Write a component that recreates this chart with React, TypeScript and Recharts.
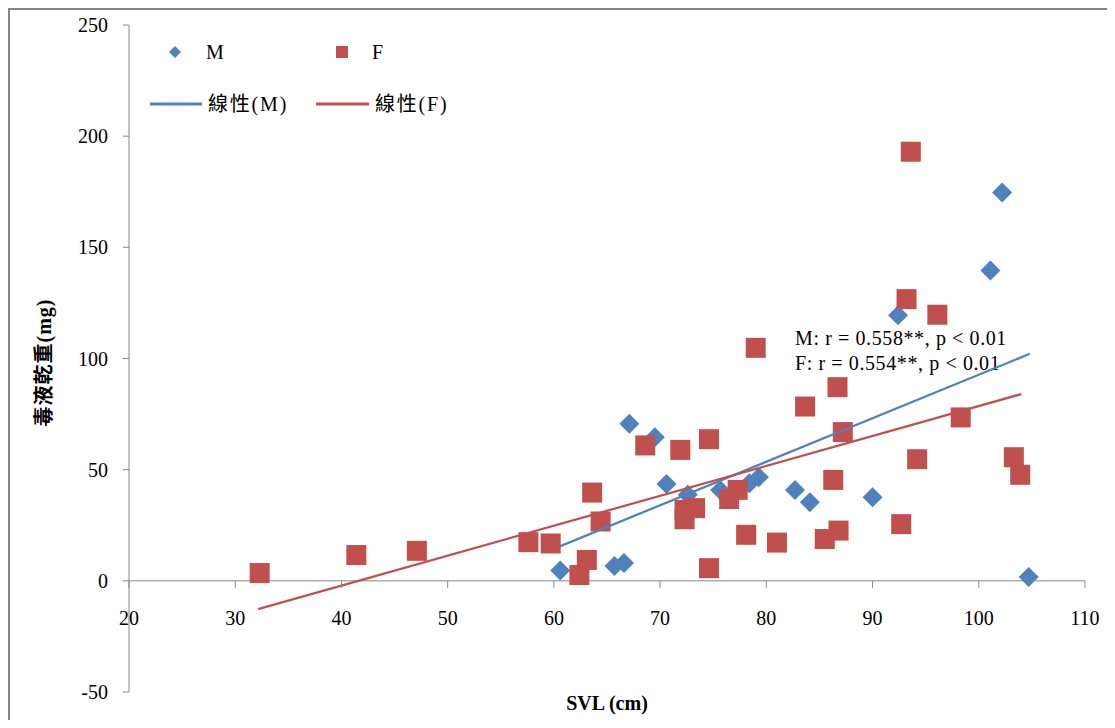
import { Legend, ReferenceLine, Scatter, ScatterChart, XAxis, YAxis } from "recharts";

// male (M) points: SVL (cm) and dry venom weight (mg)
const mSvl = [60.6, 65.7, 66.6, 67.1, 69.5, 70.6, 72.6, 75.65, 78.4, 79.3, 82.7, 84.1, 90.0, 92.4, 101.1, 102.2, 104.7];
const mVenom = [4.6, 6.7, 8.0, 70.6, 64.6, 43.6, 38.7, 40.9, 43.9, 46.6, 40.8, 35.4, 37.6, 119.5, 139.6, 174.7, 1.7];

// female (F) points
const fSvl = [
    32.3, 41.4, 47.1, 57.6, 59.7, 62.4, 63.1, 63.6, 64.4, 68.6, 71.9, 72.3, 72.3, 73.3, 74.6, 74.6, 76.5, 77.3, 78.1, 79.0, 81.0,
    83.65, 85.5, 86.3, 86.7, 86.8, 87.2, 92.7, 93.2, 93.6, 94.2, 96.1, 98.3, 103.3, 103.9,
];
const fVenom = [
    3.5, 11.6, 13.5, 17.4, 16.8, 2.6, 9.4, 39.7, 26.7, 60.9, 58.9, 27.7, 31.9, 32.7, 63.7, 5.7, 36.8, 40.9, 20.7, 104.8, 17.2,
    78.4, 18.8, 45.4, 87.1, 22.6, 66.9, 25.5, 126.7, 193, 54.7, 119.7, 73.5, 55.6, 47.7,
];

// linear trendline end points
const mTrendSvl = [60.5, 104.8];
const mTrendVenom = [15.4, 102.1];
const fTrendSvl = [32.15, 104.0];
const fTrendVenom = [-12.7, 84.0];

const xTicks = [20, 30, 40, 50, 60, 70, 80, 90, 100, 110];
const yTicks = [-50, 0, 50, 100, 150, 200, 250];

const statLines = ["M: r = 0.558**, p < 0.01", "F: r = 0.554**, p < 0.01"];

const BLUE = "#4F81BD";
const RED = "#C0504D";
const AXIS = "#868686";
const FONT = "'Liberation Serif', 'Times New Roman', 'Noto Sans CJK TC', serif";

const W = 1103;
const H = 710;
const M_TOP = 15;
const M_RIGHT = 28;
const Y_AXIS_W = 119;
const X_AXIS_H = 28;
const PLOT_H = H - M_TOP - X_AXIS_H;
// pixel row of y = 0, where the x axis sits
const ZERO_Y = M_TOP + (PLOT_H * yTicks[yTicks.length - 1]) / (yTicks[yTicks.length - 1] - yTicks[0]);

const zip = (xs: number[], ys: number[]) => xs.map((x, i) => ({ x, y: ys[i] }));

const Diamond = (props: any) => {
    const { cx, cy } = props;
    const r = 10;
    return <polygon points={`${cx},${cy - r} ${cx + r},${cy} ${cx},${cy + r} ${cx - r},${cy}`} fill={BLUE} />;
};

const Square = (props: any) => {
    const { cx, cy } = props;
    return <rect x={cx - 10} y={cy - 10} width={20} height={20} fill={RED} />;
};

const NoDot = () => <g />;

const XTick = (props: any) => {
    const { x, payload } = props;
    return (
        <g>
            <line x1={x} y1={ZERO_Y} x2={x} y2={ZERO_Y + 7} stroke={AXIS} strokeWidth={1} />
            <text x={x} y={ZERO_Y + 44} textAnchor="middle" fill="#000" fontSize={20} fontFamily={FONT}>
                {payload.value}
            </text>
        </g>
    );
};

const LegendBox = () => (
    <svg width={320} height={90} style={{ fontFamily: FONT, fontSize: 20 }}>
        <polygon points="35,10 41,16 35,22 29,16" fill={BLUE} />
        <text x={66} y={16} dy="0.35em" fill="#000">
            M
        </text>
        <rect x={196} y={10} width={12} height={12} fill={RED} />
        <text x={232} y={16} dy="0.35em" fill="#000">
            F
        </text>
        <line x1={10} y1={68} x2={62} y2={68} stroke={BLUE} strokeWidth={3} />
        <text x={68} y={68} dy="0.35em" fill="#000" letterSpacing={1.8}>
            線性(M)
        </text>
        <line x1={176} y1={68} x2={229} y2={68} stroke={RED} strokeWidth={3} />
        <text x={235} y={68} dy="0.35em" fill="#000" letterSpacing={1.8}>
            線性(F)
        </text>
    </svg>
);

export default function App() {
    return (
        <div
            style={{
                width: W + 2,
                height: H + 2,
                boxSizing: "border-box",
                borderLeft: `2px solid ${AXIS}`,
                borderTop: `2px solid ${AXIS}`,
                background: "#fff",
            }}
        >
            <ScatterChart width={W} height={H} margin={{ top: M_TOP, right: M_RIGHT, bottom: 0, left: 0 }}>
                <XAxis
                    type="number"
                    dataKey="x"
                    domain={[20, 110]}
                    ticks={xTicks}
                    interval={0}
                    height={X_AXIS_H}
                    axisLine={false}
                    tickLine={false}
                    tickSize={0}
                    tick={<XTick />}
                    label={{
                        content: (p: any) => (
                            <text
                                x={p.viewBox.x + p.viewBox.width / 2}
                                y={ZERO_Y + 129}
                                textAnchor="middle"
                                fontFamily={FONT}
                                fontSize={20}
                                fontWeight="bold"
                                fill="#000"
                            >
                                SVL (cm)
                            </text>
                        ),
                    }}
                />
                <YAxis
                    type="number"
                    dataKey="y"
                    domain={[-50, 250]}
                    ticks={yTicks}
                    interval={0}
                    width={Y_AXIS_W}
                    stroke={AXIS}
                    tickSize={6}
                    tickMargin={15}
                    tick={{ fill: "#000", fontSize: 20, fontFamily: FONT }}
                    label={{
                        content: (p: any) => {
                            const cx = 34;
                            const cy = p.viewBox.y + p.viewBox.height / 2 + 4;
                            return (
                                <text
                                    x={cx}
                                    y={cy}
                                    transform={`rotate(-90 ${cx} ${cy})`}
                                    textAnchor="middle"
                                    dy="0.35em"
                                    fontFamily={FONT}
                                    fontSize={20}
                                    fontWeight="bold"
                                    letterSpacing={1}
                                    fill="#000"
                                >
                                    毒液乾重(mg)
                                </text>
                            );
                        },
                    }}
                />
                <ReferenceLine y={0} stroke={AXIS} strokeWidth={1} />
                <Legend
                    layout="vertical"
                    align="center"
                    verticalAlign="middle"
                    content={<LegendBox />}
                    wrapperStyle={{ left: 130, top: 26, width: 320, height: 90 }}
                />
                <Scatter name="M" data={zip(mSvl, mVenom)} shape={<Diamond />} isAnimationActive={false} />
                <Scatter name="F" data={zip(fSvl, fVenom)} shape={<Square />} isAnimationActive={false} />
                <Scatter
                    name="線性(M)"
                    data={zip(mTrendSvl, mTrendVenom)}
                    line={{ stroke: BLUE, strokeWidth: 2.25 }}
                    shape={<NoDot />}
                    isAnimationActive={false}
                />
                <Scatter
                    name="線性(F)"
                    data={zip(fTrendSvl, fTrendVenom)}
                    line={{ stroke: RED, strokeWidth: 2.25 }}
                    shape={<NoDot />}
                    isAnimationActive={false}
                />
                <g fontFamily={FONT} fontSize={20} fill="#000" letterSpacing={0.6}>
                    {statLines.map((s, i) => (
                        <text key={s} x={785} y={328 + i * 25} dy="0.35em">
                            {s}
                        </text>
                    ))}
                </g>
            </ScatterChart>
        </div>
    );
}
